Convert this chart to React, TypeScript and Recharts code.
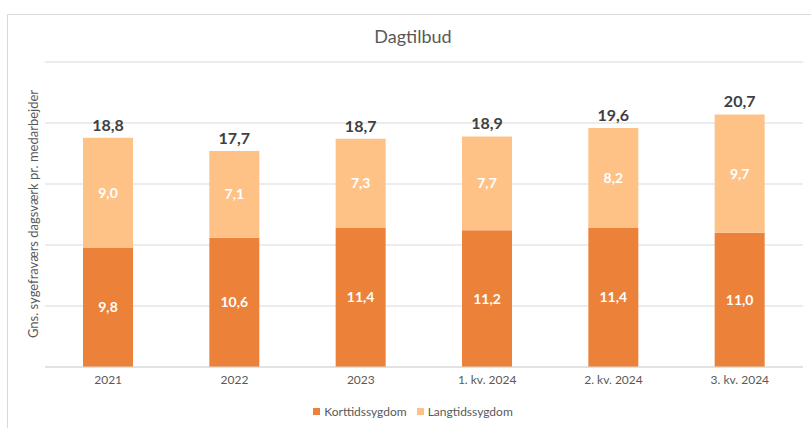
import React from 'react';
import { BarChart, Bar, XAxis, YAxis, CartesianGrid, LabelList } from 'recharts';

const categories = ['2021', '2022', '2023', '1. kv. 2024', '2. kv. 2024', '3. kv. 2024'];
const kortTid = [9.8, 10.6, 11.4, 11.2, 11.4, 11.0];
const langTid = [9.0, 7.1, 7.3, 7.7, 8.2, 9.7];
const totals = [18.8, 17.7, 18.7, 18.9, 19.6, 20.7];
const yTicks = [0, 5, 10, 15, 20, 25];

const KORT_COLOR = '#EC823A';
const LANG_COLOR = '#FEC287';
const FONT = 'Lato, "Open Sans", sans-serif';

const data = categories.map((name, i) => ({
  name,
  kort: kortTid[i],
  lang: langTid[i],
  total: totals[i],
}));

const fmt = (v: any) => Number(v).toFixed(1).replace('.', ',');

const App = () => {
  return (
    <div
      style={{
        position: 'fixed',
        left: 0,
        top: 0,
        width: 811,
        height: 428,
        overflow: 'hidden',
        background: '#fff',
        fontFamily: FONT,
      }}
    >
      {/* chart frame, clipped at right/bottom like the screenshot */}
      <div
        style={{
          position: 'absolute',
          left: 7,
          top: 14,
          width: 900,
          height: 500,
          border: '1px solid #D9D9D9',
        }}
      />
      <div
        style={{
          position: 'absolute',
          left: 0,
          width: 826,
          top: 25,
          textAlign: 'center',
          fontSize: 18,
          color: '#595959',
        }}
      >
        Dagtilbud
      </div>
      <div
        style={{
          position: 'absolute',
          left: 33,
          top: 214,
          transform: 'translate(-50%, -50%) rotate(-90deg)',
          whiteSpace: 'nowrap',
          fontSize: 13,
          color: '#595959',
        }}
      >
        Gns. sygefraværs dagsværk pr. medarbejder
      </div>
      <div style={{ position: 'absolute', left: 0, top: 0 }}>
        <BarChart
          width={811}
          height={428}
          data={data}
          margin={{ top: 62, right: 8, left: 45, bottom: 41 }}
        >
          <CartesianGrid vertical={false} stroke="#D9D9D9" strokeWidth={1} />
          <YAxis
            width={0}
            domain={[0, 25]}
            ticks={yTicks}
            tick={{ fill: 'none', fontSize: 1 }}
            axisLine={false}
            tickLine={false}
          />
          <XAxis
            dataKey="name"
            height={20}
            axisLine={{ stroke: '#D9D9D9' }}
            tickLine={false}
            tick={{ fill: '#595959', fontSize: 12, fontFamily: FONT }}
          />
          <Bar dataKey="kort" stackId="a" fill={KORT_COLOR} barSize={50} isAnimationActive={false}>
            <LabelList
              dataKey="kort"
              position="center"
              formatter={fmt}
              fill="#fff"
              fontSize={14}
              fontWeight="bold"
              fontFamily={FONT}
            />
          </Bar>
          <Bar dataKey="lang" stackId="a" fill={LANG_COLOR} barSize={50} isAnimationActive={false}>
            <LabelList
              dataKey="lang"
              position="center"
              formatter={fmt}
              fill="#fff"
              fontSize={14}
              fontWeight="bold"
              fontFamily={FONT}
            />
            <LabelList
              dataKey="total"
              position="top"
              offset={7}
              formatter={fmt}
              fill="#404040"
              fontSize={16}
              fontWeight="bold"
              fontFamily={FONT}
            />
          </Bar>
        </BarChart>
      </div>
      <div
        style={{
          position: 'absolute',
          left: 0,
          width: 826,
          top: 404,
          display: 'flex',
          justifyContent: 'center',
          alignItems: 'center',
          fontSize: 12,
          color: '#595959',
          gap: 10,
        }}
      >
        <span style={{ display: 'flex', alignItems: 'center', gap: 4 }}>
          <span style={{ width: 7, height: 7, background: KORT_COLOR, display: 'inline-block' }} />
          Korttidssygdom
        </span>
        <span style={{ display: 'flex', alignItems: 'center', gap: 4 }}>
          <span style={{ width: 7, height: 7, background: LANG_COLOR, display: 'inline-block' }} />
          Langtidssygdom
        </span>
      </div>
    </div>
  );
};

export default App;
